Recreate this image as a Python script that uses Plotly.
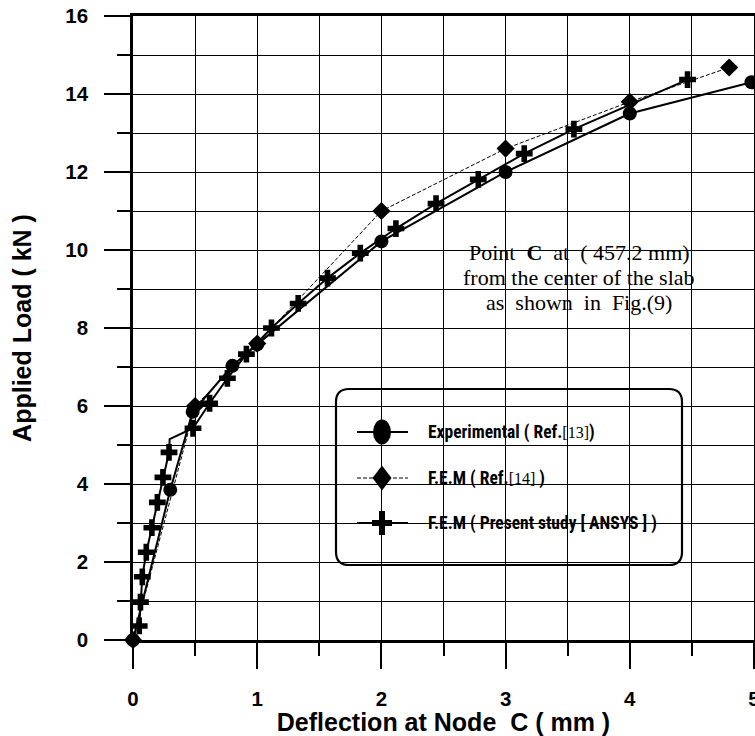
import plotly.graph_objects as go

# ---------------- data ----------------
exp_x = [0.0, 0.30, 0.48, 0.80, 1.00, 2.00, 3.00, 4.00, 4.98]
exp_y = [0.0, 3.85, 5.85, 7.03, 7.58, 10.22, 12.00, 13.50, 14.30]

ref14_x = [0.0, 0.50, 1.00, 2.00, 3.00, 4.00, 4.80]
ref14_y = [0.0, 6.00, 7.60, 11.00, 12.60, 13.80, 14.68]

ansys_x = [0.05, 0.06, 0.075, 0.107, 0.152, 0.196, 0.241, 0.290, 0.295, 0.483, 0.617,
           0.760, 0.913, 1.115, 1.330, 1.566, 1.830, 2.117, 2.440, 2.780, 3.150, 3.550, 4.465]
ansys_y = [0.36, 0.97, 1.62, 2.25, 2.88, 3.53, 4.17, 4.81, 5.15, 5.43, 6.07,
           6.71, 7.33, 8.00, 8.63, 9.28, 9.92, 10.55, 11.19, 11.81, 12.47, 13.10, 14.37]
ansys_marked = [True] * 8 + [False] + [True] * 14  # the bend at 5.15 kN has no marker

x_ticks = [0, 1, 2, 3, 4, 5]
y_ticks = [0, 2, 4, 6, 8, 10, 12, 14, 16]

legend_labels = [
    "Experimental ( Ref.<span style=\"font-family:'Liberation Serif',serif;font-weight:normal;font-size:16px\">[13]</span>)",
    "F.E.M ( Ref.<span style=\"font-family:'Liberation Serif',serif;font-weight:normal;font-size:16px\">[14]</span> )",
    "F.E.M ( Present study [ ANSYS ] )",
]
note_lines = ["Point  <b>C</b>  at  ( 457.2 mm)",
              "from the center of the slab",
              "as  shown  in  Fig.(9)"]

# ---------------- layout geometry ----------------
W, H = 755, 736
ML, MR, MT, MB = 133, 1, 16, 96
PW, PH = W - ML - MR, H - MT - MB


def px(x):
    return (x - ML) / PW


def py(y):
    return (H - MB - y) / PH


SANS = "Liberation Sans, Arial, sans-serif"
NARROW = "Roboto Condensed, Open Sans Condensed, Liberation Sans Narrow, Liberation Sans, Arial, sans-serif"
SERIF = "Liberation Serif, Times New Roman, serif"

fig = go.Figure()

fig.add_trace(go.Scatter(
    x=exp_x, y=exp_y, mode="lines+markers",
    line=dict(color="black", width=2),
    marker=dict(symbol="circle", size=14, color="black", opacity=1, line=dict(width=0)),
    showlegend=False, cliponaxis=False))

fig.add_trace(go.Scatter(
    x=ref14_x, y=ref14_y, mode="lines+markers",
    line=dict(color="black", width=1, dash="4px,2px"),
    marker=dict(symbol="diamond", size=14, color="black", opacity=1, line=dict(width=0)),
    showlegend=False, cliponaxis=False))

fig.add_trace(go.Scatter(
    x=ansys_x, y=ansys_y, mode="lines+markers",
    line=dict(color="black", width=2),
    marker=dict(symbol="cross", size=[14 if m else 0 for m in ansys_marked], color="black",
                opacity=1, line=dict(width=0)),
    showlegend=False, cliponaxis=False))

shapes = []
annotations = []

# note box (white, hides grid)
shapes.append(dict(type="rect", xref="paper", yref="paper",
                   x0=px(435), x1=px(723), y0=py(351), y1=py(229),
                   fillcolor="white", line=dict(width=0), layer="between"))
for txt, ly in zip(note_lines, [252, 278, 302]):
    annotations.append(dict(xref="paper", yref="paper", x=px(579), y=py(ly),
                            text=txt, showarrow=False, xanchor="center", yanchor="middle",
                            font=dict(family=SERIF, size=22, color="black")))

# legend box with rounded corners (pixel path converted to paper)
bx0, bx1, by0, by1, r = 336, 682, 389, 565, 13


def P(x, y):
    return f"{px(x):.5f},{py(y):.5f}"


path = (f"M {P(bx0 + r, by0)} L {P(bx1 - r, by0)} Q {P(bx1, by0)} {P(bx1, by0 + r)} "
        f"L {P(bx1, by1 - r)} Q {P(bx1, by1)} {P(bx1 - r, by1)} "
        f"L {P(bx0 + r, by1)} Q {P(bx0, by1)} {P(bx0, by1 - r)} "
        f"L {P(bx0, by0 + r)} Q {P(bx0, by0)} {P(bx0 + r, by0)} Z")
shapes.append(dict(type="path", xref="paper", yref="paper", path=path,
                   fillcolor="white", line=dict(color="black", width=2.2), layer="between"))

rows = [432, 478, 523]
lx0, lx1, lc = 357, 408, 382
for i, ry in enumerate(rows):
    dash = "solid" if i != 1 else "4px,2px"
    lw = 2 if i != 1 else 1
    shapes.append(dict(type="line", xref="paper", yref="paper",
                       x0=px(lx0), x1=px(lx1), y0=py(ry), y1=py(ry),
                       line=dict(color="black", width=lw, dash=dash), layer="above"))
    annotations.append(dict(xref="paper", yref="paper", x=px(426), y=py(ry),
                            text=legend_labels[i], showarrow=False,
                            xanchor="left", yanchor="middle",
                            font=dict(family=NARROW, size=17.5, color="black", weight="bold")))

# legend symbols drawn in pixel size around anchor
shapes.append(dict(type="circle", xref="paper", yref="paper",
                   xsizemode="pixel", ysizemode="pixel",
                   xanchor=px(lc), yanchor=py(rows[0]),
                   x0=-9, x1=9, y0=-12.5, y1=12.5,
                   fillcolor="black", line=dict(color="black", width=0), layer="above"))
shapes.append(dict(type="path", xref="paper", yref="paper",
                   xsizemode="pixel", ysizemode="pixel",
                   xanchor=px(lc), yanchor=py(rows[1]),
                   path="M 0,12.5 L 9.5,0 L 0,-12.5 L -9.5,0 Z",
                   fillcolor="black", line=dict(color="black", width=0), layer="above"))
for (hx, hy) in [(3, 12), (10, 3)]:
    shapes.append(dict(type="rect", xref="paper", yref="paper",
                       xsizemode="pixel", ysizemode="pixel",
                       xanchor=px(lc), yanchor=py(rows[2]),
                       x0=-hx, x1=hx, y0=-hy, y1=hy,
                       fillcolor="black", line=dict(color="black", width=0), layer="above"))

axis_common = dict(
    showline=True, linecolor="black", linewidth=2.5, mirror=True,
    ticks="outside", ticklen=26, tickwidth=2, tickcolor="black",
    showgrid=True, gridcolor="black", gridwidth=1,
    zeroline=False, automargin=False, ticklabeloverflow="allow",
    tickfont=dict(family=SANS, size=20.5, color="black", weight="bold"),
)

fig.update_layout(
    width=W, height=H,
    margin=dict(l=ML, r=MR, t=MT, b=MB, pad=0),
    paper_bgcolor="white", plot_bgcolor="white",
    xaxis=dict(range=[0, 5], tickvals=x_ticks,
               minor=dict(dtick=0.5, ticks="outside", ticklen=13, tickwidth=2, tickcolor="black",
                          showgrid=True, gridcolor="black", gridwidth=1),
               ticklabelstandoff=13,
               title=dict(text="Deflection at Node  C ( mm )", standoff=0,
                          font=dict(family=SANS, size=25, color="black", weight="bold")),
               **axis_common),
    yaxis=dict(range=[0, 16], tickvals=y_ticks,
               minor=dict(dtick=1, ticks="outside", ticklen=13, tickwidth=2, tickcolor="black",
                          showgrid=True, gridcolor="black", gridwidth=1),
               ticklabelstandoff=12,
               title=dict(text="Applied Load ( kN )", standoff=27,
                          font=dict(family=SANS, size=25, color="black", weight="bold")),
               **axis_common),
    shapes=shapes, annotations=annotations,
)

fig.write_html("out.html")
